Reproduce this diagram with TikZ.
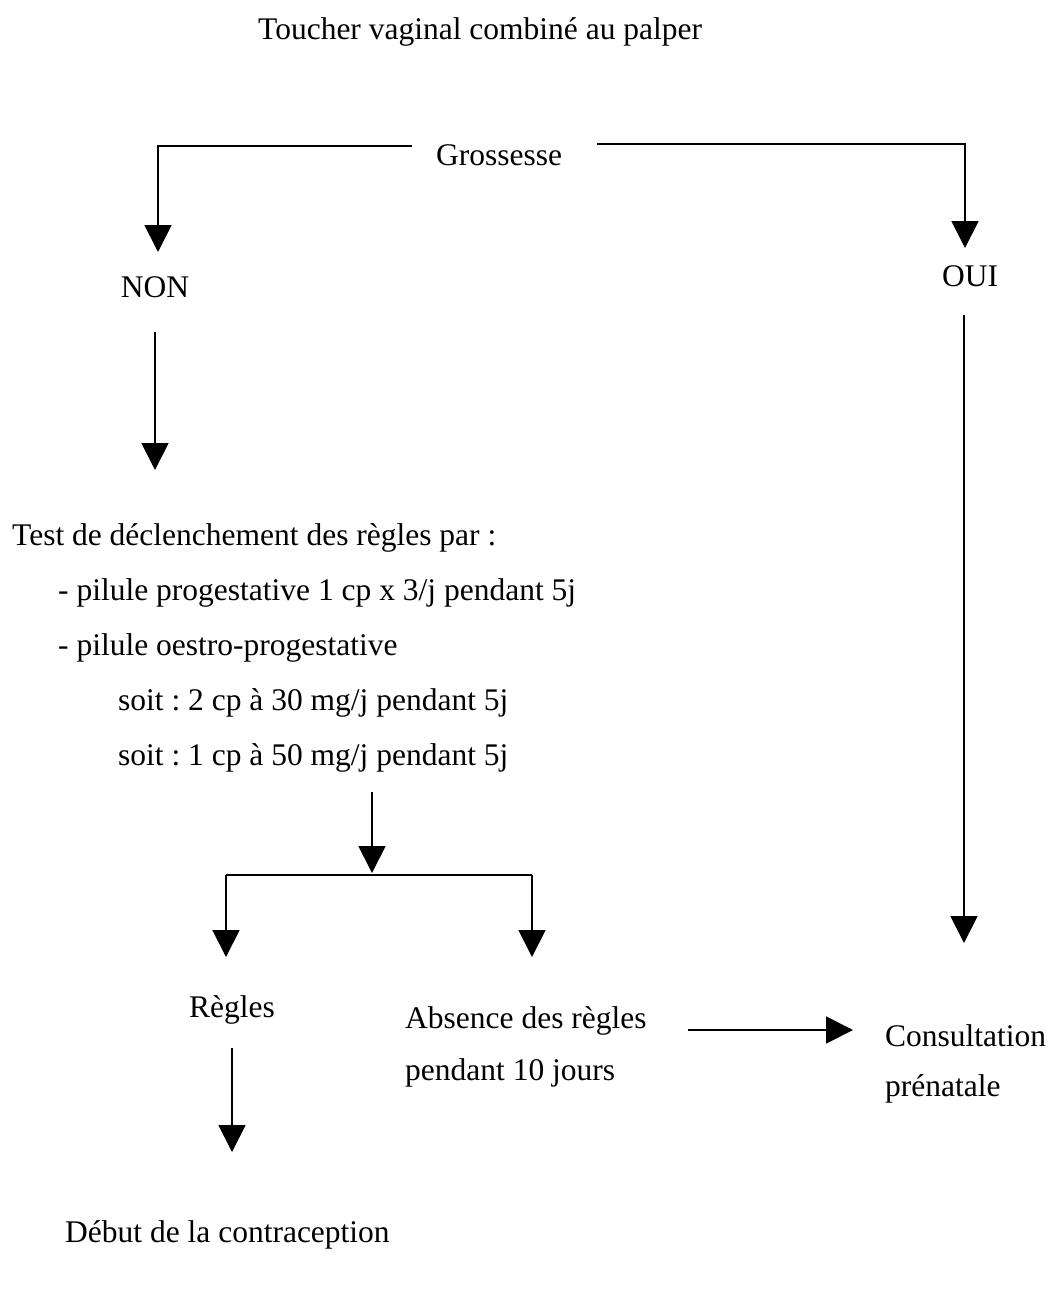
\documentclass[tikz,border=0pt]{standalone}
\usepackage{fontspec}
\setmainfont{Liberation Serif}
\usetikzlibrary{arrows.meta}
\frenchspacing
\begin{document}
\begin{tikzpicture}[x=1pt,y=-1pt,
  txt/.style={inner sep=0pt,anchor=base west,font=\fontsize{31.5}{38}\selectfont},
  ln/.style={line width=1.8pt},
  arr/.style={line width=1.8pt,-{Triangle[length=27pt,width=27pt]}}]
\useasboundingbox[fill=white] (0,0) rectangle (1053,1298);
% texts
\node[txt] (title) at (258,40) {Toucher vaginal combiné au palper};
\node[txt] (gro) at (436,165) {Grossesse};
\node[txt,anchor=base] (non) at (155,297) {NON};
\node[txt,anchor=base] (oui) at (970,286) {OUI};
\node[txt] (test) at (12,545) {Test de déclenchement des règles par :};
\node[txt] (p1) at (58,600) {- pilule progestative 1 cp x 3/j pendant 5j};
\node[txt] (p2) at (58,655) {- pilule oestro-progestative};
\node[txt] (s1) at (118,710) {soit : 2 cp à 30 mg/j pendant 5j};
\node[txt] (s2) at (118,765) {soit : 1 cp à 50 mg/j pendant 5j};
\node[txt,anchor=base] (regles) at (232,1017) {Règles};
\node[txt] (abs1) at (405,1028) {Absence des règles};
\node[txt] (abs2) at (405,1080) {pendant 10 jours};
\node[txt] (cons1) at (885,1046) {Consultation};
\node[txt] (cons2) at (885,1096) {prénatale};
\node[txt] (debut) at (65,1242) {Début de la contraception};
% connector points
\coordinate (gL) at (412,146);
\coordinate (nonTip) at (158,252);
\coordinate (gR) at (597,144);
\coordinate (ouiTip) at (965,248);
\coordinate (nonA) at (155,332);
\coordinate (nonB) at (155,470);
\coordinate (ouiA) at (964,315);
\coordinate (ouiB) at (964,943);
\coordinate (tA) at (372,792);
\coordinate (tB) at (372,873);
\coordinate (barL) at (226,875);
\coordinate (barR) at (532,875);
\coordinate (rTip) at (226,957);
\coordinate (aTip) at (532,957);
\coordinate (hA) at (688,1030);
\coordinate (hB) at (853,1030);
\coordinate (dA) at (232,1048);
\coordinate (dB) at (232,1152);
% connectors
\draw[arr] (gL) -| (nonTip);
\draw[arr] (gR) -| (ouiTip);
\draw[arr] (nonA) -- (nonB);
\draw[arr] (ouiA) -- (ouiB);
\draw[arr] (tA) -- (tB);
\draw[ln] (barL) -- (barR);
\draw[arr] (barL) -- (rTip);
\draw[arr] (barR) -- (aTip);
\draw[arr] (hA) -- (hB);
\draw[arr] (dA) -- (dB);
\end{tikzpicture}
\end{document}
